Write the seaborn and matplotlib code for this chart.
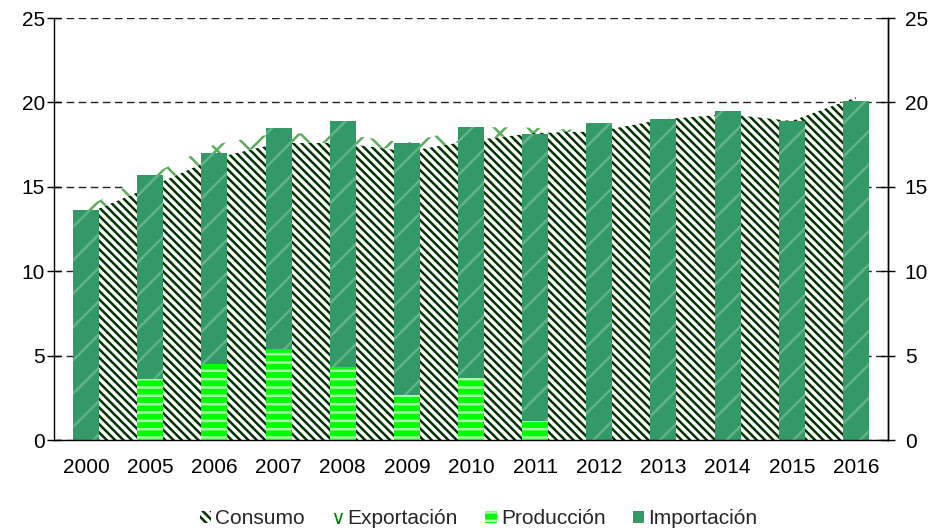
import numpy as np
import matplotlib
matplotlib.use('Agg')
import matplotlib.pyplot as plt
import seaborn as sns
from matplotlib.patches import Patch
from matplotlib.lines import Line2D

years = ['2000', '2005', '2006', '2007', '2008', '2009', '2010',
         '2011', '2012', '2013', '2014', '2015', '2016']
produccion = [0.0, 3.6, 4.5, 5.4, 4.35, 2.65, 3.7, 1.1, 0.0, 0.0, 0.0, 0.0, 0.0]
importacion = [13.6, 12.1, 12.5, 13.1, 14.55, 14.95, 14.85, 17.05, 18.8, 19.0, 19.5, 18.9, 20.1]
consumo = [13.4, 15.0, 16.7, 17.6, 17.6, 17.1, 17.75, 18.2, 18.3, 19.0, 19.3, 18.9, 20.3]
exportacion = [0.4, 0.7, 0.8, 0.6, 0.5, 0.5, 0.8, 0.3, 0.0, 0.0, 0.0, 0.0, 0.0]
y_ticks = [0, 5, 10, 15, 20, 25]

C_IMP = '#339966'
C_PROD = '#00FF00'
C_CONS = '#003300'
C_EXP = '#008000'
H_EXP = '#5aad5a'
H_IMP = '#62b388'
H_PROD = '#a8ffa8'
FS = 15

sns.set_style('white')
plt.rcParams['font.family'] = ['Liberation Sans', 'DejaVu Sans']
plt.rcParams['font.size'] = FS
plt.rcParams['hatch.linewidth'] = 1.8

fig = plt.figure(figsize=(9.35, 5.32), dpi=100)
ax = fig.add_axes([54 / 935, 1 - 440 / 532, (888 - 54) / 935, (440 - 18) / 532])

x = np.arange(len(years))
cons = np.array(consumo)
tot_exp = cons + np.array(exportacion)

# Areas (behind bars)
ax.fill_between(x, 0, cons, facecolor='white', edgecolor=C_CONS,
                hatch='\\\\\\\\', linewidth=0, zorder=1)
ax.fill_between(x, cons, tot_exp, facecolor='white', edgecolor=H_EXP,
                hatch='x', linewidth=0, zorder=1)

# Stacked bars
totals = np.array(produccion) + np.array(importacion)
n0 = len(ax.patches)
sns.barplot(x=years, y=totals, color=C_IMP, saturation=1, width=0.405,
            ax=ax, zorder=2, linewidth=0)
for b in ax.patches[n0:]:
    b.set_hatch('/')
    b.set_edgecolor(H_IMP)
    b.set_linewidth(0)
n1 = len(ax.patches)
sns.barplot(x=years, y=produccion, color=C_PROD, saturation=1, width=0.405,
            ax=ax, zorder=3, linewidth=0)
for b in ax.patches[n1:]:
    b.set_hatch('--')
    b.set_edgecolor(H_PROD)
    b.set_linewidth(0)

ax.set_xlim(-0.5, len(years) - 0.5)
ax.set_ylim(0, 25)
ax.set_yticks(y_ticks)
ax.set_xlabel('')
ax.set_ylabel('')

ax.yaxis.grid(True, linestyle=(0, (5.5, 3.2)), linewidth=1.0, color='#222222')
ax.xaxis.grid(False)
ax.set_axisbelow(True)

for s in ['left', 'bottom', 'right']:
    ax.spines[s].set_visible(True)
    ax.spines[s].set_color('black')
    ax.spines[s].set_linewidth(1.0)
ax.spines['top'].set_visible(False)

ax.tick_params(axis='y', which='major', direction='inout', length=10, width=1,
               colors='black', labelsize=FS, left=True, pad=1.5)
ax.set_xticks(x)
ax.set_xticklabels(years)
ax.set_xticks(np.arange(-0.5, len(years), 1.0), minor=True)
ax.tick_params(axis='x', which='major', length=0, labelsize=FS, pad=13, colors='black')
ax.tick_params(axis='x', which='minor', direction='out', length=6, width=1, color='black')

ax2 = ax.twinx()
ax2.set_ylim(0, 25)
ax2.set_yticks(y_ticks)
ax2.tick_params(axis='y', direction='inout', length=10, width=1, colors='black',
                labelsize=FS, right=True, pad=7)
for s in ['top', 'left', 'bottom']:
    ax2.spines[s].set_visible(False)
ax2.spines['right'].set_color('black')
ax2.spines['right'].set_linewidth(1.0)
ax2.grid(False)

handles = [
    Patch(facecolor='white', edgecolor=C_CONS, hatch='\\\\\\\\', linewidth=0, label='Consumo'),
    Line2D([], [], marker='$\\vee$', color=C_EXP, linestyle='none', markersize=8,
           markeredgewidth=0, label='Exportación'),
    Patch(facecolor=C_PROD, edgecolor=H_PROD, hatch='--', linewidth=0, label='Producción'),
    Patch(facecolor=C_IMP, edgecolor=H_IMP, hatch='/', linewidth=0, label='Importación'),
]
fig.legend(handles=handles, loc='center', bbox_to_anchor=(478.5 / 935, 1 - 519 / 532),
           ncol=4, frameon=False, fontsize=FS, handlelength=0.55, handleheight=0.55,
           handletextpad=0.2, columnspacing=1.3, borderaxespad=0)

fig.savefig('out.png', dpi=100)
